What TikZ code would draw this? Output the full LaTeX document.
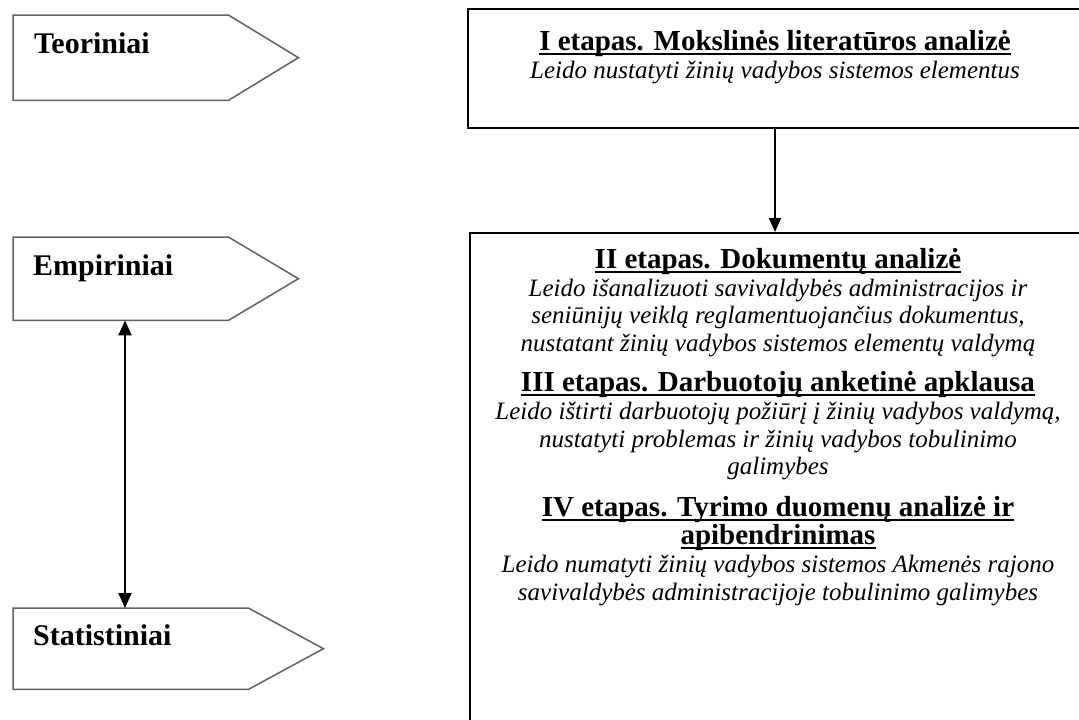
\documentclass[tikz,border=0pt]{standalone}
\usepackage{fontspec}
\setmainfont{Liberation Serif}
\usetikzlibrary{arrows.meta,calc}

% heading with a rule drawn just under the baseline
\newcommand\stageline[1]{\setbox0\hbox{#1}\rlap{\rule[-4.5pt]{\wd0}{1.7pt}}\box0}

\tikzset{
  tagbody/.style={inner sep=0pt, anchor=north west},
  tagline/.style={draw=black!62, line width=1.5pt, line join=miter},
  taglabel/.style={anchor=base west, inner sep=0pt, font=\fontsize{30}{32}\selectfont\bfseries},
  stagebox/.style={draw=black, line width=2pt, anchor=north west, inner sep=0pt},
  headtxt/.style={anchor=base, inner sep=0pt, font=\fontsize{29}{31}\selectfont\bfseries},
  desctxt/.style={anchor=base, inner sep=0pt, font=\fontsize{25}{28}\selectfont\itshape},
  flow/.style={line width=1.6pt, -{Triangle[length=14pt,width=12pt]}},
  twoway/.style={line width=2pt, {Triangle[length=15pt,width=13pt]}-{Triangle[length=15pt,width=13pt]}}
}

\begin{document}
\begin{tikzpicture}[x=1pt, y=-1pt]
\useasboundingbox (0,0) rectangle (1079,720);
\fill[white] (0,0) rectangle (1079,720);
\clip (0,0) rectangle (1079,720);

% method tags on the left
\node[tagbody, minimum width=215pt, minimum height=85pt] (teor) at (13,15) {};
\node[tagbody, minimum width=215pt, minimum height=83pt] (emp) at (13,237) {};
\node[tagbody, minimum width=235pt, minimum height=81pt] (stat) at (13,608) {};

\draw[tagline] (teor.north west) -- (teor.north east) -- ($(teor.east)+(70,0)$)
  -- (teor.south east) -- (teor.south west) -- cycle;
\draw[tagline] (emp.north west) -- (emp.north east) -- ($(emp.east)+(70,0)$)
  -- (emp.south east) -- (emp.south west) -- cycle;
\draw[tagline] (stat.north west) -- (stat.north east) -- ($(stat.east)+(75,0)$)
  -- (stat.south east) -- (stat.south west) -- cycle;

\node[taglabel] (teorl) at (34,53) {Teoriniai};
\node[taglabel] (empl) at (33,275) {Empiriniai};
\node[taglabel] (statl) at (33,645) {Statistiniai};

\coordinate (vx) at (125,0);
\draw[twoway] (emp.south -| vx) -- (stat.north -| vx);

% research stages on the right
\node[stagebox, minimum width=640pt, minimum height=119pt] (s1) at (467,8) {};
\node[stagebox, minimum width=640pt, minimum height=520pt] (s2) at (469,232) {};

\coordinate (cx) at (775,0);
\draw[flow] (s1.south -| cx) -- (s2.north -| cx);

\node[headtxt] (h1) at (775,50) {\stageline{I etapas. Mokslinės literatūros analizė}};
\node[desctxt] (d1) at (775,78) {Leido nustatyti žinių vadybos sistemos elementus};

\node[headtxt] (h2) at (778,268) {\stageline{II etapas. Dokumentų analizė}};
\node[desctxt] (d2a) at (778,296) {Leido išanalizuoti savivaldybės administracijos ir};
\node[desctxt] (d2b) at (778,323) {seniūnijų veiklą reglamentuojančius dokumentus,};
\node[desctxt] (d2c) at (778,351) {nustatant žinių vadybos sistemos elementų valdymą};

\node[headtxt] (h3) at (778,391) {\stageline{III etapas. Darbuotojų anketinė apklausa}};
\node[desctxt] (d3a) at (778,419) {Leido ištirti darbuotojų požiūrį į žinių vadybos valdymą,};
\node[desctxt] (d3b) at (778,447) {nustatyti problemas ir žinių vadybos tobulinimo};
\node[desctxt] (d3c) at (778,474) {galimybes};

\node[headtxt] (h4a) at (778,516) {\stageline{IV etapas. Tyrimo duomenų analizė ir}};
\node[headtxt] (h4b) at (778,544) {\stageline{apibendrinimas}};
\node[desctxt] (d4a) at (778,572) {Leido numatyti žinių vadybos sistemos Akmenės rajono};
\node[desctxt] (d4b) at (778,600) {savivaldybės administracijoje tobulinimo galimybes};
\end{tikzpicture}
\end{document}
